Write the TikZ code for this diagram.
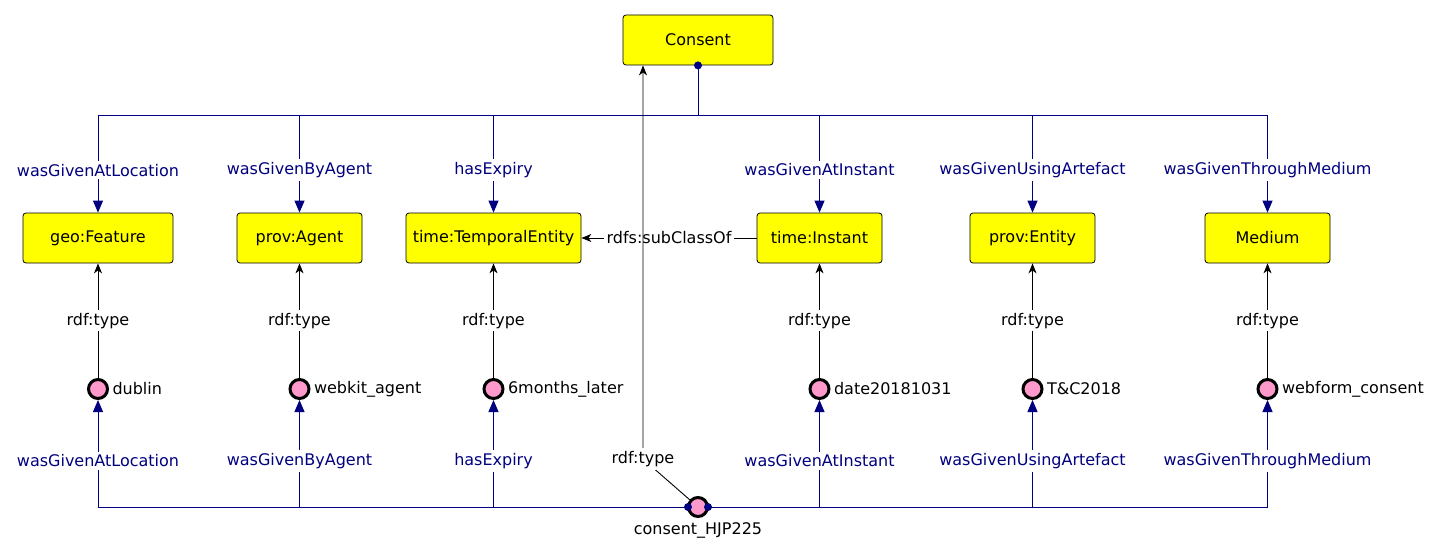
\documentclass[tikz,border=0pt]{standalone}
\usepackage{fontspec}
\setmainfont{DejaVu Sans}
\usetikzlibrary{arrows.meta}
\definecolor{navyc}{RGB}{0,0,128}
\definecolor{pinkc}{RGB}{255,153,204}
\definecolor{yel}{RGB}{255,255,0}
\begin{document}
\begin{tikzpicture}[x=1pt,y=-1pt,
 font=\fontsize{16}{19}\selectfont,
 cls/.style={draw=black, line width=0.8pt, fill=yel, rounded corners=3pt, minimum height=50pt, inner sep=2pt},
 inst/.style={circle, draw=black, line width=3pt, fill=pinkc, minimum size=19pt, inner sep=0pt},
 navyline/.style={draw=navyc, line width=1pt},
 navyarrow/.style={navyline, -{Triangle[width=10pt,length=12pt]}},
 blackarrow/.style={draw=black, line width=0.9pt, -{Stealth[width=8pt,length=10pt,inset=3pt]}},
 nlbl/.style={fill=white, text=navyc, inner sep=3pt},
 blbl/.style={fill=white, text=black, inner sep=3pt},
 ilbl/.style={label distance=0pt},
]
\useasboundingbox (0,0) rectangle (1443,559);
% classes
\node[cls, minimum width=150pt] (consent) at (698,40) {Consent};
\node[cls, minimum width=150pt] (feature) at (98,238) {geo:Feature};
\node[cls, minimum width=125pt] (agent) at (299.5,238) {prov:Agent};
\node[cls, minimum width=175pt] (temporal) at (493.5,238) {time:TemporalEntity};
\node[cls, minimum width=125pt] (instant) at (819.5,238) {time:Instant};
\node[cls, minimum width=125pt] (entity) at (1032.5,238) {prov:Entity};
\node[cls, minimum width=125pt] (medium) at (1267.5,238) {Medium};
% instances
\node[inst, label={[ilbl]right:dublin}] (dublin) at (98,389) {};
\node[inst, label={[ilbl]right:webkit\_agent}] (webkit) at (299.5,389) {};
\node[inst, label={[ilbl]right:6months\_later}] (later) at (493.5,389) {};
\node[inst, label={[ilbl]right:date20181031}] (date) at (819.5,389) {};
\node[inst, label={[ilbl]right:T\&C2018}] (tc) at (1032.5,389) {};
\node[inst, label={[ilbl]right:webform\_consent}] (webform) at (1267.5,389) {};
\node[inst, label={[label distance=1pt]below:consent\_HJP225}] (hjp) at (698,507) {};
\coordinate (top) at (698,116);
\coordinate (bend) at (643,459);
% top tree
\draw[navyline] (consent.south) -- (top);
\draw[navyarrow] (top) -| node[nlbl, pos=0.78]{wasGivenAtLocation} (feature.north);
\draw[navyarrow] (top) -| node[nlbl, pos=0.78]{wasGivenThroughMedium} (medium.north);
\foreach \t/\l in {agent/wasGivenByAgent, temporal/hasExpiry, instant/wasGivenAtInstant, entity/wasGivenUsingArtefact}
  \draw[navyarrow] (\t.north |- top) -- node[nlbl, pos=0.557]{\l} (\t.north);
% bottom tree
\draw[navyarrow] (hjp.west) -| node[nlbl, pos=0.715]{wasGivenAtLocation} (dublin.south);
\draw[navyarrow] (hjp.east) -| node[nlbl, pos=0.715]{wasGivenThroughMedium} (webform.south);
\foreach \t/\l in {webkit/wasGivenByAgent, later/hasExpiry, date/wasGivenAtInstant, tc/wasGivenUsingArtefact}
  \draw[navyarrow] (\t.south |- hjp) -- node[nlbl, pos=0.43]{\l} (\t.south);
\fill[navyc] (consent.south) circle (4pt);
\fill[navyc] ([xshift=1pt]hjp.west) circle (4pt);
\fill[navyc] ([xshift=-1pt]hjp.east) circle (4pt);
% rdf:type
\foreach \i/\c in {dublin/feature, webkit/agent, later/temporal, date/instant, tc/entity, webform/medium}
  \draw[blackarrow] (\i.north) -- node[blbl]{rdf:type} (\c.south);
\draw[blackarrow] (instant.west) -- node[blbl]{rdfs:subClassOf} (temporal.east);
\draw[blackarrow] (hjp) -- node[blbl, pos=1]{rdf:type} (bend) -- (bend |- consent.south);
\end{tikzpicture}
\end{document}
